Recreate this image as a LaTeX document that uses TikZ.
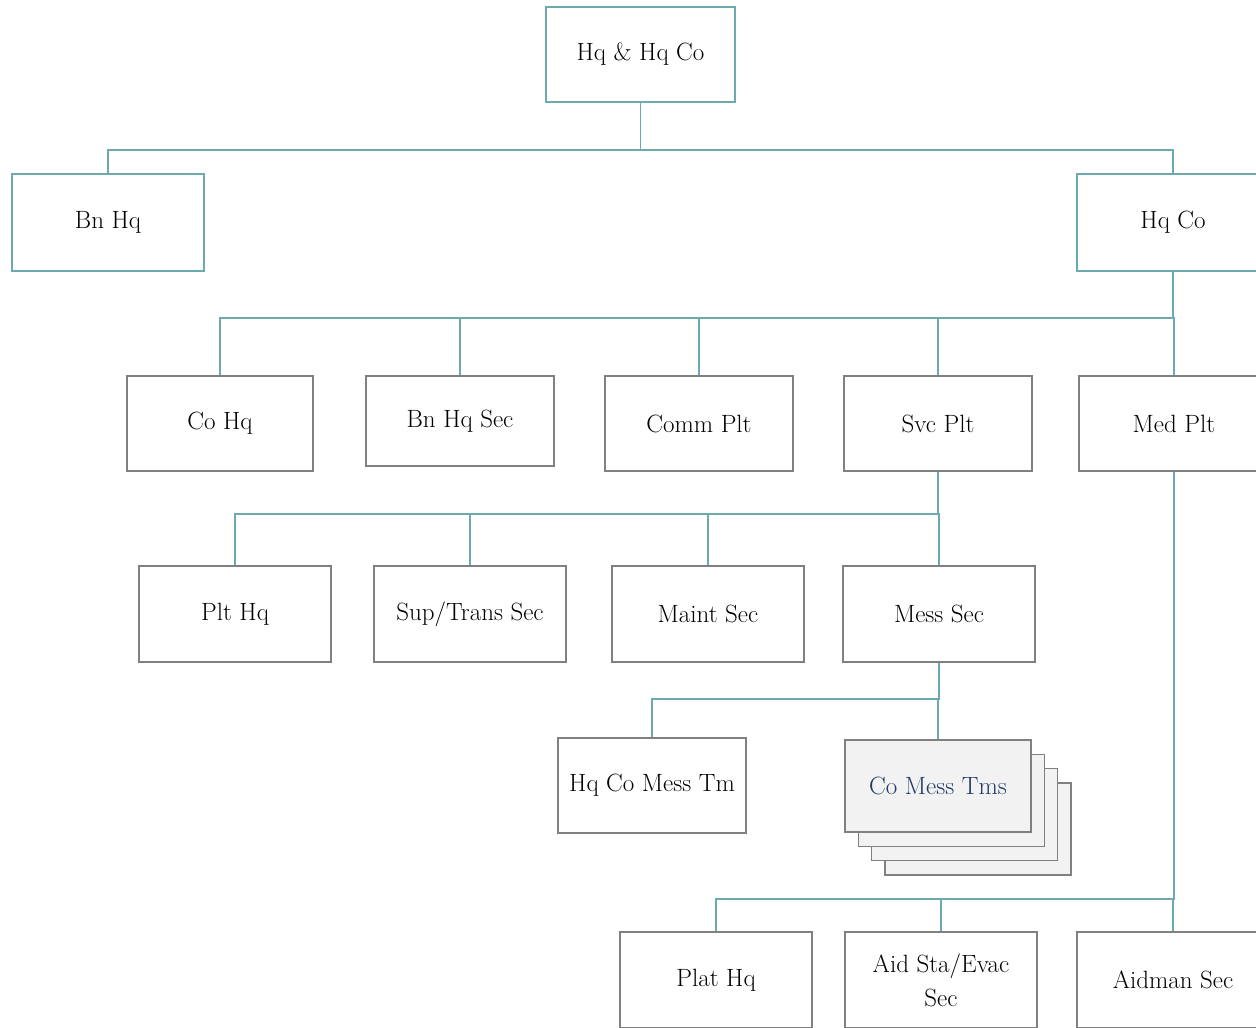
\documentclass[tikz,border=0pt]{standalone}
\usepackage{tikz}
\usetikzlibrary{calc}

\definecolor{orgteal}{HTML}{6BABAF}
\definecolor{orggray}{HTML}{808080}
\definecolor{orgfill}{HTML}{F2F2F2}
\definecolor{orgnavy}{HTML}{1F3864}

\tikzset{
    unit/.style={draw=orggray, line width=1.6pt, fill=white, inner sep=0pt,
        minimum width=188pt, minimum height=95pt, align=center,
        font=\fontsize{25}{34}\selectfont},
    topunit/.style={unit, draw=orgteal},
    stackunit/.style={unit, fill=orgfill, minimum width=186pt, minimum height=92pt},
    link/.style={draw=orgteal, line width=1.6pt}
}

\begin{document}
\begin{tikzpicture}[x=1pt, y=-1pt]
    \path[use as bounding box, clip] (0,0) rectangle (1256,1028);

    \coordinate (bus1) at (0,150);
    \coordinate (bus2) at (0,318);
    \coordinate (bus3) at (0,514);
    \coordinate (bus4) at (0,699);
    \coordinate (bus5) at (0,899);

    % Top level
    \node[topunit, minimum width=189pt] (hqhq) at (640.5,54.5) {Hq \& Hq Co};
    \node[topunit, minimum width=192pt, minimum height=97pt] (bnhq) at (108,222.5) {Bn Hq};
    \node[topunit, minimum width=192pt, minimum height=97pt] (hqco) at (1173,222.5) {Hq Co};

    % Platoons
    \node[unit, minimum width=186pt] (cohq) at (220,423.5) {Co Hq};
    \node[unit, minimum height=90pt] (bnhqsec) at (460,421) {Bn Hq Sec};
    \node[unit] (commplt) at (699,423.5) {Comm Plt};
    \node[unit] (svcplt) at (938,423.5) {Svc Plt};
    \node[unit, minimum width=190pt] (medplt) at (1174,423.5) {Med Plt};

    % Service platoon sections
    \node[unit, minimum width=192pt, minimum height=96pt] (plthq) at (235,614) {Plt Hq};
    \node[unit, minimum width=192pt, minimum height=96pt] (suptrans) at (470,614) {Sup/Trans Sec};
    \node[unit, minimum width=192pt, minimum height=96pt] (maint) at (708,614) {Maint Sec};
    \node[unit, minimum width=192pt, minimum height=96pt] (mess) at (939,614) {Mess Sec};

    % Mess teams
    \node[unit] (hqcomess) at (652,785.5) {Hq Co Mess Tm};
    \foreach \k in {3,2,1}
        \node[stackunit] (comess\k) at ($(938,786)+(13.3*\k,14.3*\k)$) {};
    \node[stackunit, text=orgnavy] (comess) at (938,786) {Co Mess Tms};

    % Medical platoon sections
    \node[unit, minimum width=192pt, minimum height=96pt] (plathq) at (716,980) {Plat Hq};
    \node[unit, minimum width=192pt, minimum height=96pt] (aidsta) at (941,980) {Aid Sta/Evac\\Sec};
    \node[unit, minimum width=192pt, minimum height=96pt] (aidman) at (1173,980) {Aidman Sec};

    % Connectors
    \foreach \n in {bnhq,hqco}
        \draw[link] (hqhq.south) -- (hqhq.south |- bus1) -| (\n.north);
    \foreach \n in {cohq,bnhqsec,commplt,svcplt,medplt}
        \draw[link] (hqco.south) -- (hqco.south |- bus2) -| (\n.north);
    \foreach \n in {plthq,suptrans,maint,mess}
        \draw[link] (svcplt.south) -- (svcplt.south |- bus3) -| (\n.north);
    \foreach \n in {hqcomess,comess}
        \draw[link] (mess.south) -- (mess.south |- bus4) -| (\n.north);
    \foreach \n in {plathq,aidsta,aidman}
        \draw[link] (medplt.south) -- (medplt.south |- bus5) -| (\n.north);

\end{tikzpicture}
\end{document}
